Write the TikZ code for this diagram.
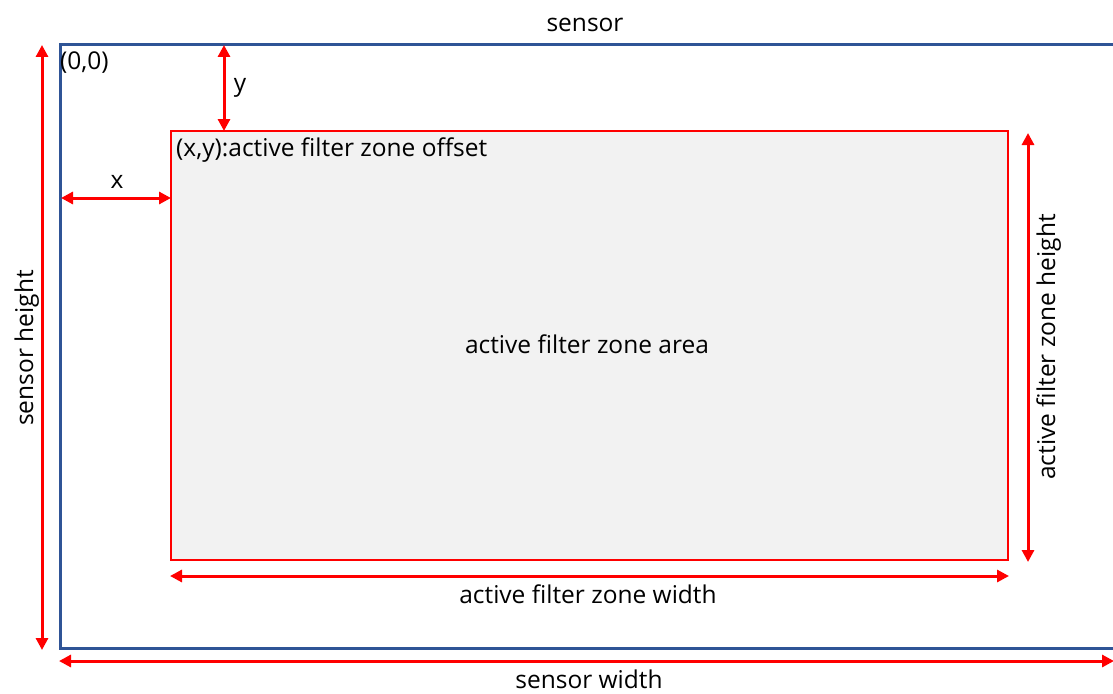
\documentclass[tikz,border=0pt]{standalone}
\usepackage{fontspec}
\setmainfont{Open Sans}
\usetikzlibrary{arrows.meta}
\definecolor{sensorblue}{RGB}{47,84,150}
\definecolor{zonegray}{RGB}{242,242,242}
\tikzset{
  dim/.style={red, line width=3pt, {Triangle[length=12pt,width=12pt]}-{Triangle[length=12pt,width=12pt]}},
  lbl/.style={font=\fontsize{24.5}{28}\selectfont, inner sep=0pt, text=black, anchor=base}
}
\begin{document}
\begin{tikzpicture}[x=1pt,y=-1pt]
\useasboundingbox (0,0) rectangle (1113,693);
\clip (0,0) rectangle (1113,693);
% sensor
\draw[sensorblue, line width=3pt] (1130,45) -- (60,45) -- (60,648) -- (1130,648);
% zone
\draw[red, line width=1.5pt, fill=zonegray] (171,131) rectangle (1008,560);
% coordinates for dimensions
\coordinate (sh1) at (42,45); \coordinate (sh2) at (42,650);
\coordinate (x1) at (61,198); \coordinate (x2) at (171,198);
\coordinate (y1) at (224,45); \coordinate (y2) at (224,131);
\coordinate (zh1) at (1028,133); \coordinate (zh2) at (1028,562);
\coordinate (zw1) at (170,576); \coordinate (zw2) at (1009,576);
\coordinate (sw1) at (59,661); \coordinate (sw2) at (1114,661);
\draw[dim] (sh1) -- (sh2);
\draw[dim] (x1) -- (x2);
\draw[dim] (y1) -- (y2);
\draw[dim] (zh1) -- (zh2);
\draw[dim] (zw1) -- (zw2);
\draw[dim] (sw1) -- (sw2);
% labels
\node[lbl] (tsensor) at (585,32) {sensor};
\node[lbl, anchor=base west] (t00) at (60,70) {(0,0)};
\node[lbl] (ty) at (240,92) {y};
\node[lbl] (tx) at (117,188) {x};
\node[lbl, anchor=base west] (toff) at (176,156) {(x,y):active filter zone offset};
\node[lbl] (tarea) at (587,353) {active filter zone area};
\node[lbl, rotate=90] (tzh) at (1055,347) {active filter zone height};
\node[lbl, rotate=90] (tsh) at (33,348) {sensor height};
\node[lbl] (tzw) at (588,603) {active filter zone width};
\node[lbl] (tsw) at (589,688) {sensor width};
\end{tikzpicture}
\end{document}
